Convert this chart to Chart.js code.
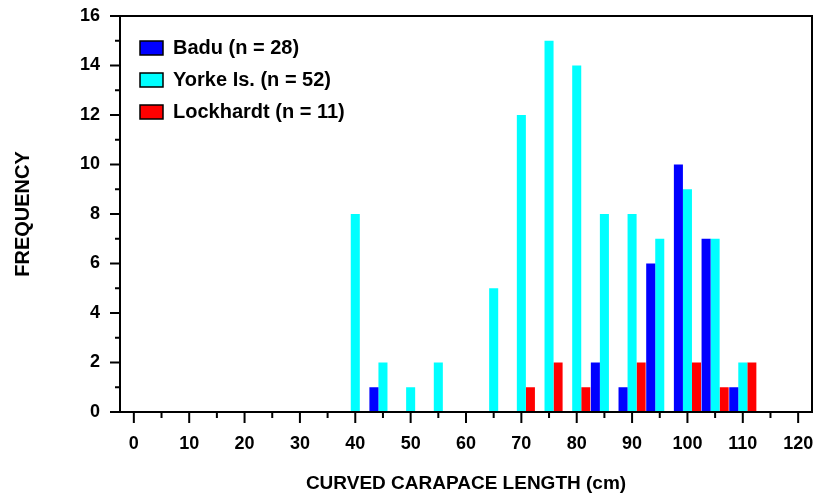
<!DOCTYPE html>
<html>
<head>
<meta charset="utf-8">
<script src="https://cdn.jsdelivr.net/npm/chart.js@4.4.1/dist/chart.umd.min.js"></script>
<style>
  html, body { margin: 0; padding: 0; background: #fff; }
  #wrap { width: 819px; height: 497px; }
</style>
</head>
<body>
<div id="wrap"><canvas id="lengthgraph"></canvas></div>
<script>
// bins of curved carapace length (cm)
var bins = [0,5,10,15,20,25,30,35,40,45,50,55,60,65,70,75,80,85,90,95,100,105,110,115,120];
var badu      = [0,0,0,0,0,0,0,0,0,1,0,0,0,0,0,0,0,2,1,6,10,7,1,0,0];
var yorke     = [0,0,0,0,0,0,0,0,8,2,1,2,0,5,12,15,14,8,8,7,9,7,2,0,0];
var lockhardt = [0,0,0,0,0,0,0,0,0,0,0,0,0,0,1,2,1,0,2,0,2,1,2,0,0];
var seriesNames = ['Badu (n = 28)', 'Yorke Is. (n = 52)', 'Lockhardt (n = 11)'];
var seriesColors = ['#0000ff', '#00ffff', '#ff0000'];

var FONT = 'Liberation Sans, Arial, Helvetica, sans-serif';

// frame round the plot + major/minor tick marks
var framePlugin = {
    id: 'frame',
    afterLayout: function(chart){
        // push the legend a bit into the plot
        chart.legend.left += 8;
        chart.legend.top += 26;
    },
    afterDraw: function(chart){
        var ctx = chart.ctx;
        var a = chart.chartArea;
        var xs = chart.scales.x, ys = chart.scales.y;
        ctx.save();
        ctx.strokeStyle = '#000';
        ctx.lineWidth = 2;
        ctx.strokeRect(a.left, a.top, a.right - a.left, a.bottom - a.top);
        ctx.beginPath();
        for(var i = 0; i < bins.length; i++){
            var px = xs.getPixelForValue(i);
            var len = bins[i] % 10 == 0 ? 11 : 6;
            ctx.moveTo(px, a.bottom);
            ctx.lineTo(px, a.bottom + len);
        }
        for(var v = 0; v <= 16; v++){
            var py = ys.getPixelForValue(v);
            var len2 = v % 2 == 0 ? 10 : 5;
            ctx.moveTo(a.left, py);
            ctx.lineTo(a.left - len2, py);
        }
        ctx.stroke();
        ctx.restore();
    }
};

var data = [badu, yorke, lockhardt];
var datasets = [];
for(var i = 0; i < 3; i++){
    datasets.push({
        label: seriesNames[i],
        data: data[i],
        backgroundColor: seriesColors[i],
        borderWidth: 0,
        barPercentage: 1.0,
        categoryPercentage: 0.98
    });
}

var ctx = document.getElementById('lengthgraph').getContext('2d');
var chart = new Chart(ctx, {
    type: 'bar',
    data: { labels: bins, datasets: datasets },
    options: {
        responsive: true,
        maintainAspectRatio: false,
        animation: false,
        layout: { padding: { top: 16, right: 7, left: 0, bottom: 0 } },
        plugins: {
            tooltip: { enabled: false },
            legend: {
                position: 'chartArea',
                align: 'start',
                labels: {
                    boxWidth: 23,
                    boxHeight: 14,
                    padding: 12,
                    color: '#000',
                    font: { family: FONT, size: 20, weight: 'bold' },
                    generateLabels: function(c){
                        return c.data.datasets.map(function(ds, idx){
                            return {
                                text: ds.label,
                                fillStyle: ds.backgroundColor,
                                strokeStyle: '#000',
                                lineWidth: 1.5,
                                datasetIndex: idx
                            };
                        });
                    }
                }
            }
        },
        scales: {
            x: {
                offset: true,
                grid: { display: false, drawTicks: false },
                border: { display: false },
                ticks: {
                    autoSkip: false,
                    maxRotation: 0,
                    padding: 21,
                    color: '#000',
                    font: { family: FONT, size: 18, weight: 'bold' },
                    callback: function(val, idx){
                        return bins[idx] % 10 == 0 ? bins[idx] : '';
                    }
                },
                title: {
                    display: true,
                    text: 'CURVED CARAPACE LENGTH (cm)',
                    color: '#000',
                    font: { family: FONT, size: 19, weight: 'bold' },
                    padding: { top: 0, bottom: 2 }
                },
                afterFit: function(s){
                    s.height = 85;
                    s.paddingLeft = 0;
                    s.paddingRight = 0;
                }
            },
            y: {
                min: 0,
                max: 16,
                grid: { display: false, drawTicks: false },
                border: { display: false },
                ticks: {
                    stepSize: 1,
                    padding: 20,
                    color: '#000',
                    font: { family: FONT, size: 18, weight: 'bold' },
                    callback: function(v){ return v % 2 == 0 ? v : ''; }
                },
                title: {
                    display: true,
                    text: 'FREQUENCY',
                    color: '#000',
                    font: { family: FONT, size: 20, weight: 'bold' },
                    padding: { top: 11, bottom: 0 }
                },
                afterFit: function(s){
                    s.width = 120;
                    s.paddingTop = 0;
                    s.paddingBottom = 0;
                }
            }
        }
    },
    plugins: [framePlugin]
});
</script>
</body>
</html>
